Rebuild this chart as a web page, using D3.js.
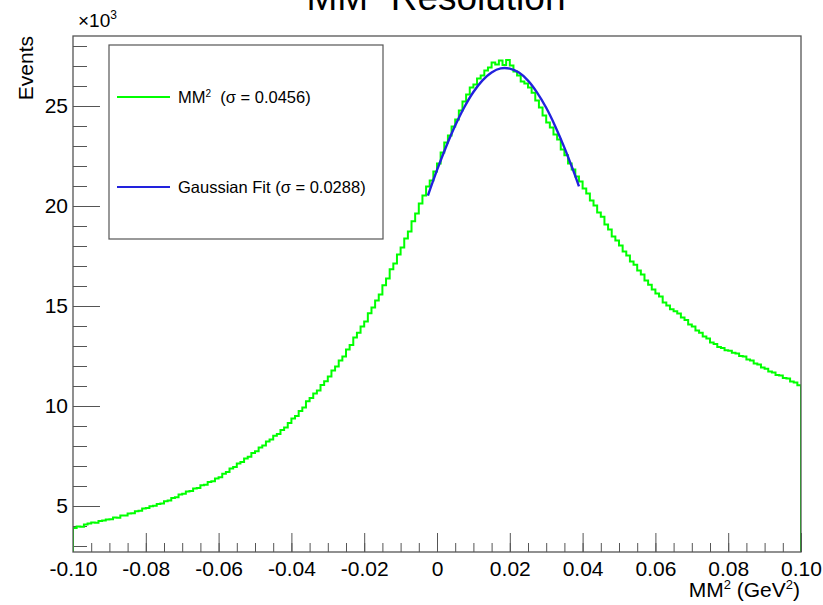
<!DOCTYPE html>
<html>
<head>
<meta charset="utf-8">
<script src="https://cdn.jsdelivr.net/npm/d3@7"></script>
<style>
  body { margin: 0; background: #fff; }
  text { font-family: "Liberation Sans", Arial, Helvetica, sans-serif; fill: #000; }
</style>
</head>
<body>
<script>
// MM^2 resolution histogram with gaussian fit

// Histogram binning (GeV^2)
var binLow = -0.1
var binWidth = 0.001

// Events per bin, in units of 10^3 (200 bins from -0.1 to 0.1)
var events = [
  3.90, 3.97, 3.96, 4.08, 4.12, 4.18, 4.16, 4.25, 4.27, 4.33,
  4.34, 4.42, 4.41, 4.52, 4.53, 4.62, 4.64, 4.74, 4.76, 4.87,
  4.90, 4.99, 5.01, 5.10, 5.12, 5.24, 5.27, 5.40, 5.44, 5.58,
  5.61, 5.72, 5.75, 5.88, 5.90, 6.04, 6.06, 6.20, 6.24, 6.38,
  6.44, 6.61, 6.70, 6.88, 6.95, 7.13, 7.20, 7.38, 7.46, 7.65,
  7.74, 7.93, 8.02, 8.23, 8.33, 8.51, 8.60, 8.80, 8.92, 9.15,
  9.38, 9.50, 9.75, 9.92, 10.24, 10.40, 10.63, 10.78, 11.05, 11.24,
  11.48, 11.78, 11.97, 12.28, 12.47, 12.82, 13.05, 13.42, 13.66, 13.98,
  14.22, 14.64, 14.92, 15.28, 15.57, 16.04, 16.37, 16.84, 17.12, 17.58,
  17.92, 18.38, 18.72, 19.24, 19.62, 20.13, 20.52, 20.98, 21.27, 21.73,
  22.12, 22.68, 23.18, 23.52, 23.98, 24.32, 24.78, 25.22, 25.58, 25.93,
  26.08, 26.38, 26.52, 26.78, 26.92, 27.18, 27.08, 27.28, 27.05, 27.30,
  27.02, 26.72, 26.52, 26.22, 26.12, 25.92, 25.66, 25.28, 24.92, 24.52,
  24.18, 23.92, 23.58, 23.32, 22.82, 22.54, 22.12, 21.83, 21.48, 21.22,
  20.88, 20.62, 20.28, 20.03, 19.68, 19.46, 19.08, 18.82, 18.48, 18.27,
  18.02, 17.73, 17.52, 17.23, 17.06, 16.78, 16.57, 16.28, 16.06, 15.83,
  15.63, 15.47, 15.18, 15.02, 14.84, 14.74, 14.62, 14.43, 14.30, 14.08,
  13.97, 13.78, 13.66, 13.48, 13.37, 13.18, 13.10, 12.95, 12.90, 12.79,
  12.76, 12.66, 12.62, 12.50, 12.47, 12.33, 12.27, 12.13, 12.07, 11.93,
  11.86, 11.73, 11.67, 11.55, 11.52, 11.40, 11.37, 11.22, 11.17, 11.04
]

// Gaussian fit curve (x 10^3)
var fitX = [-0.0025, 0, 0.0025, 0.005, 0.0075, 0.01, 0.0125, 0.015, 0.0175,
            0.02, 0.0225, 0.025, 0.0275, 0.03, 0.0325, 0.035, 0.0375, 0.039]
var fitY = [20.52, 21.79, 22.96, 24.02, 24.94, 25.70, 26.28, 26.68, 26.88,
            26.87, 26.67, 26.27, 25.67, 24.91, 23.98, 22.92, 21.74, 20.98]

// Tick values
var xTicks = [-0.10, -0.08, -0.06, -0.04, -0.02, 0, 0.02, 0.04, 0.06, 0.08, 0.10]
var yTicks = [5, 10, 15, 20, 25]

// Legend entries
var legendLabels = ["(\u03c3 = 0.0456)", "Gaussian Fit (\u03c3 = 0.0288)"]
var legendColors = ["#00ff00", "#2222dd"]

// Margin & width, height
var margin = {top: 36, right: 22, bottom: 53, left: 73};
var width = 823 - margin.left - margin.right;
var height = 605 - margin.top - margin.bottom;
var axisColor = "#555";

// Scales
var x = d3.scaleLinear()
    .domain([-0.1, 0.1])
    .range([0, width]);

var y = d3.scaleLinear()
    .domain([2.7, 28.5])
    .range([height, 0]);

// SVG area
var root = d3.select("body").append("svg")
    .attr("width", 823)
    .attr("height", 605);

var svg = root.append("g")
    .attr("transform", "translate(" + margin.left + "," + margin.top + ")");

// Clip for the histogram
svg.append("clipPath")
   .attr("id", "plotclip")
   .append("rect")
   .attr("width", width)
   .attr("height", height);

// Minor x ticks
var xMinor = d3.range(0, 41).map(function(i) { return -0.1 + i * 0.005; });
svg.append("g")
   .attr("transform", "translate(0," + height + ")")
   .attr("color", axisColor)
   .call(d3.axisBottom(x).tickValues(xMinor).tickSize(-9).tickFormat(""))
   .call(function(g) { g.select(".domain").remove(); });

// Major x ticks and labels
svg.append("g")
   .attr("transform", "translate(0," + height + ")")
   .attr("color", axisColor)
   .call(d3.axisBottom(x).tickValues(xTicks).tickSize(-19).tickPadding(9)
     .tickFormat(function(d) { return d === 0 ? "0" : d.toFixed(2); }))
   .call(function(g) { g.select(".domain").remove(); })
   .attr("font-size", 21)
   .attr("font-family", null);

// Minor y ticks
svg.append("g")
   .attr("color", axisColor)
   .call(d3.axisLeft(y).tickValues(d3.range(3, 29)).tickSize(-14).tickFormat(""))
   .call(function(g) { g.select(".domain").remove(); });

// Major y ticks and labels
svg.append("g")
   .attr("color", axisColor)
   .call(d3.axisLeft(y).tickValues(yTicks).tickSize(-27).tickPadding(5))
   .call(function(g) { g.select(".domain").remove(); })
   .attr("font-size", 21)
   .attr("font-family", null);

// Histogram outline
var steps = [[binLow, y.domain()[0]]];
events.forEach(function(v, i) { steps.push([binLow + i * binWidth, v]); });
steps.push([binLow + events.length * binWidth, events[events.length - 1]]);
steps.push([binLow + events.length * binWidth, y.domain()[0]]);

svg.append("path")
   .datum(steps)
   .attr("clip-path", "url(#plotclip)")
   .attr("fill", "none")
   .attr("stroke", "#00ff00")
   .attr("stroke-width", 2)
   .attr("d", d3.line()
     .curve(d3.curveStepAfter)
     .x(function(d) { return x(d[0]); })
     .y(function(d) { return y(d[1]); }));

// Gaussian fit
svg.append("path")
   .datum(d3.zip(fitX, fitY))
   .attr("fill", "none")
   .attr("stroke", legendColors[1])
   .attr("stroke-width", 2.4)
   .attr("d", d3.line()
     .curve(d3.curveCatmullRom)
     .x(function(d) { return x(d[0]); })
     .y(function(d) { return y(d[1]); }));

// Frame
svg.append("rect")
   .attr("width", width)
   .attr("height", height)
   .attr("fill", "none")
   .attr("stroke", axisColor)
   .attr("stroke-width", 1.3);

// Legend box
root.append("rect")
   .attr("x", 109)
   .attr("y", 45)
   .attr("width", 274)
   .attr("height", 194)
   .attr("fill", "#fff")
   .attr("stroke", axisColor)
   .attr("stroke-width", 1.2);

var legendY = [97, 187];
legendY.forEach(function(ly, i) {
  root.append("line")
     .attr("x1", 117).attr("x2", 170)
     .attr("y1", ly).attr("y2", ly)
     .attr("stroke", legendColors[i])
     .attr("stroke-width", 2);
  var t = root.append("text")
     .attr("x", 178)
     .attr("y", ly + 6)
     .attr("font-size", 16.5);
  if (i == 0) {
    t.append("tspan").text("MM");
    t.append("tspan").attr("font-size", 10).attr("dy", -6).text("2");
    t.append("tspan").attr("dy", 6).text("\u00a0 " + legendLabels[0]);
  } else {
    t.text(legendLabels[1]);
  }
});

// Title
var title = root.append("text")
   .attr("x", 436)
   .attr("y", 10)
   .attr("font-size", 37)
   .style("text-anchor", "middle");
title.append("tspan").text("MM");
title.append("tspan").attr("font-size", 22).attr("dy", -13).text("2");
title.append("tspan").attr("dy", 13).text(" Resolution");

// Multiplier
var mult = root.append("text")
   .attr("x", 78)
   .attr("y", 27)
   .attr("font-size", 19);
mult.append("tspan").text("\u00d710");
mult.append("tspan").attr("font-size", 12).attr("dy", -8).text("3");

// Y label
root.append("text")
   .attr("transform", "translate(33,36) rotate(-90)")
   .attr("font-size", 21)
   .style("text-anchor", "end")
   .text("Events");

// X label
var xl = root.append("text")
   .attr("x", 800)
   .attr("y", 597)
   .attr("font-size", 21)
   .style("text-anchor", "end");
xl.append("tspan").text("MM");
xl.append("tspan").attr("font-size", 13).attr("dy", -8).text("2");
xl.append("tspan").attr("dy", 8).text(" (GeV");
xl.append("tspan").attr("font-size", 13).attr("dy", -8).text("2");
xl.append("tspan").attr("dy", 8).text(")");
</script>
</body>
</html>
